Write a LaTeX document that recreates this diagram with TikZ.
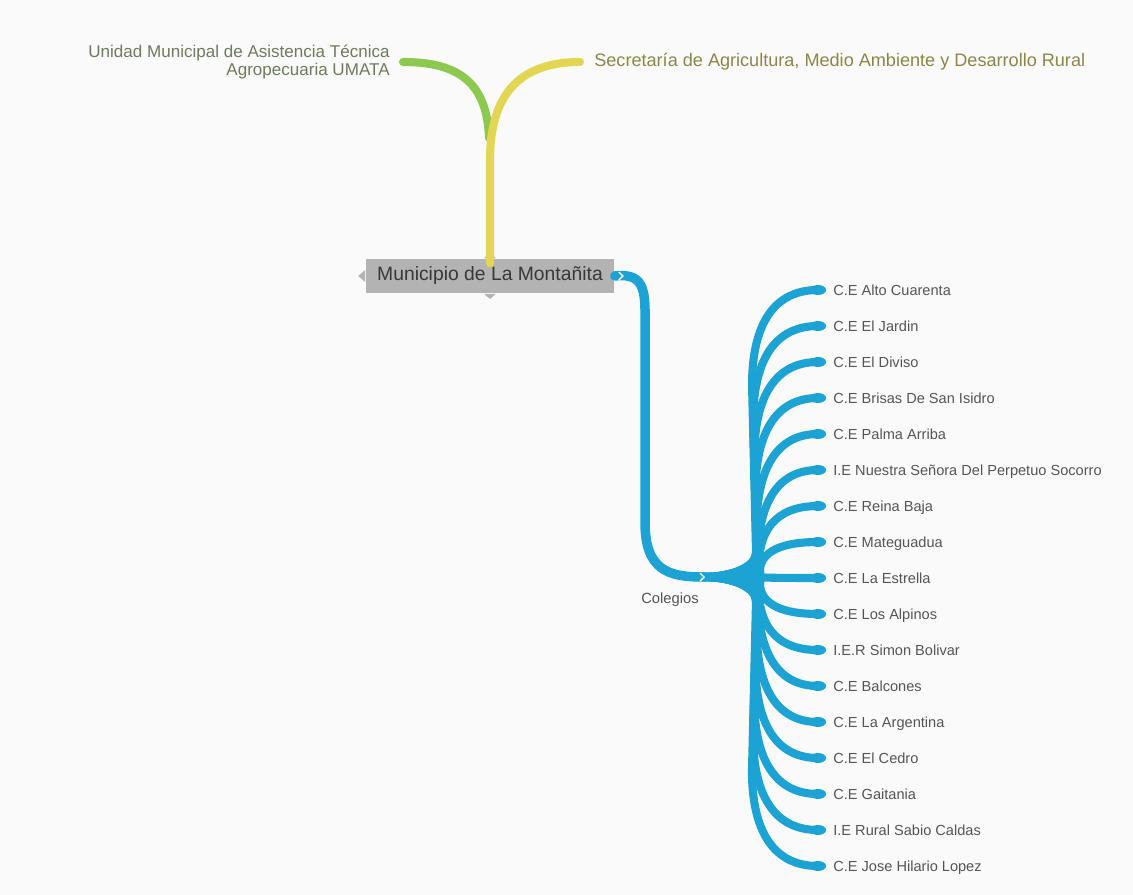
\documentclass[tikz,border=0pt]{standalone}
\usepackage{fontspec}
\setmainfont{Liberation Sans}
\usetikzlibrary{positioning,calc}
\definecolor{mapblue}{HTML}{1CA3D3}
\definecolor{mapgreen}{HTML}{8DC850}
\definecolor{mapyellow}{HTML}{E3D652}
\definecolor{mapbg}{HTML}{FAFAFA}
\definecolor{rootgray}{HTML}{B3B3B3}
\definecolor{leaftext}{HTML}{555555}
\definecolor{umatatext}{HTML}{6E7B5C}
\definecolor{sectext}{HTML}{8C8648}
\tikzset{
  root/.style  ={rectangle, fill=rootgray, text=black!78, minimum width=4.98cm,
                 minimum height=0.7cm, inner sep=0pt, font=\fontsize{11}{13}\selectfont},
  leaf/.style  ={anchor=west, text=leaftext, inner sep=0pt, text height=1.6ex,
                 text depth=0.4ex, font=\fontsize{8.3}{10}\selectfont},
  topic/.style ={inner sep=0pt, font=\fontsize{9.7}{10.2}\selectfont},
  twig/.style  ={draw=mapblue, line width=4.6pt, line cap=round, line join=round},
  trunk/.style ={draw=mapblue, line width=5.4pt, line cap=round},
  stem/.style  ={line width=4.6pt, line cap=round}
}

\begin{document}
\begin{tikzpicture}[x=0.02cm, y=-0.02cm]
\fill[mapbg] (0,0) rectangle (1133,895);

% root and its notches
\node[root] (root) at (490,276) {Municipio de La Montañita};
\fill[rootgray] ($(root.west)+(0,-6)$) -- ++(-7,6) -- ++(7,6) -- cycle;
\fill[rootgray] ($(root.north)+(-6,0)$) -- ++(6,-5) -- ++(6,5) -- cycle;
\fill[rootgray] ($(root.south)+(-6,0)$) -- ++(6,5) -- ++(6,-5) -- cycle;

% upper branches
\coordinate (secEnd) at (580,62);
\coordinate (umaEnd) at (403,62);
\coordinate (fork)   at (489,138);
\node[topic, text=sectext, font=\fontsize{10.3}{11}\selectfont,
      right=0.28cm of secEnd, anchor=west] (sec)
      {Secretaría de Agricultura, Medio Ambiente y Desarrollo Rural};
\node[topic, text=umatatext, left=0.26cm of umaEnd, anchor=east, align=right] (uma)
      {Unidad Municipal de Asistencia Técnica\\Agropecuaria UMATA};
\draw[stem, draw=mapgreen] (fork) .. controls (487,82) and (458,62) .. (umaEnd);
\draw[stem, draw=mapyellow] ([yshift=-3]root.north) -- (490,160)
      .. controls (490,92) and (522,62) .. (secEnd);

% colegios
\coordinate (hub) at (703,577);
\node[text=leaftext, font=\fontsize{8.4}{10}\selectfont, inner sep=0pt]
      (col) at (670,600) {Colegios};
\draw[trunk] (root.east) .. controls (648,272) and (645,296) .. (645,330)
      -- (645,522) .. controls (645,570) and (668,577) .. (hub);

\foreach \i/\name in {1/C.E Alto Cuarenta, 2/C.E El Jardin, 3/C.E El Diviso,
    4/C.E Brisas De San Isidro, 5/C.E Palma Arriba,
    6/I.E Nuestra Señora Del Perpetuo Socorro, 7/C.E Reina Baja,
    8/C.E Mateguadua, 9/C.E La Estrella, 10/C.E Los Alpinos,
    11/I.E.R Simon Bolivar, 12/C.E Balcones, 13/C.E La Argentina,
    14/C.E El Cedro, 15/C.E Gaitania, 16/I.E Rural Sabio Caldas,
    17/C.E Jose Hilario Lopez}{
  \pgfmathsetmacro{\yy}{290+(\i-1)*36}
  \pgfmathsetmacro{\dd}{abs(577-\yy)}
  \pgfmathsetmacro{\ss}{ifthenelse(\yy<=577,1,-1)}
  \pgfmathsetmacro{\xv}{752+9*(1-\dd/288)}
  \pgfmathsetmacro{\xa}{\xv+4*\dd/288}
  \pgfmathsetmacro{\rr}{min(95,0.85*\dd)}
  \pgfmathsetmacro{\aa}{min(25,0.15*\dd)}
  \pgfmathsetmacro{\ya}{577-\ss*\aa}
  \pgfmathsetmacro{\yh}{577-\ss*\aa*0.4}
  \pgfmathsetmacro{\yb}{\yy+\ss*\rr}
  \pgfmathsetmacro{\yc}{\yy+\ss*\rr*0.45}
  \pgfmathsetmacro{\xc}{\xv+(818-\xv)*0.25}
  \coordinate (e\i) at (818,\yy);
  \node[leaf, right=0.3cm of e\i, anchor=west] (l\i) {\name};
  \draw[twig] (hub) .. controls (732,577) and (\xa,\yh) .. (\xa,\ya)
        -- (\xv,\yb) .. controls (\xv,\yc) and (\xc,\yy) .. (e\i);
  \fill[mapblue] (e\i) ellipse (8 and 5);
}

% little chevrons
\draw[white, line width=0.8pt] ($(hub)+(-3,-4)$) -- ++(4,4) -- ++(-4,4);
\draw[white, line width=0.8pt] ($(root.east)+(4,-4)$) -- ++(4,4) -- ++(-4,4);
\end{tikzpicture}
\end{document}
